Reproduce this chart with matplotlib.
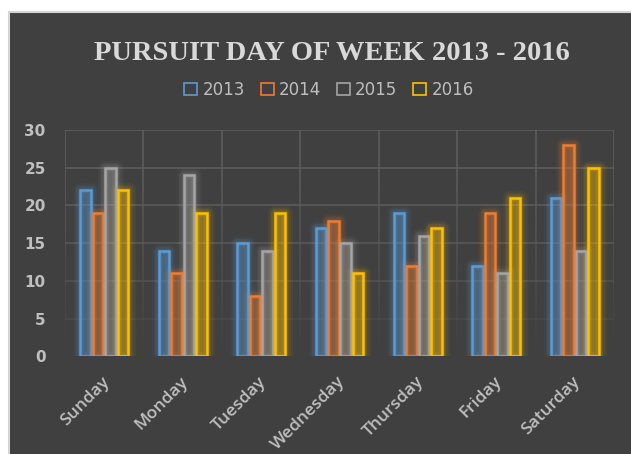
import matplotlib
matplotlib.use('Agg')
import matplotlib.pyplot as plt
import numpy as np
from matplotlib.patches import Rectangle, Patch
from matplotlib.collections import LineCollection
import matplotlib.transforms as mtransforms

days = ['Sunday', 'Monday', 'Tuesday', 'Wednesday', 'Thursday', 'Friday', 'Saturday']
years = ['2013', '2014', '2015', '2016']
v2013 = [22, 14, 15, 17, 19, 12, 21]
v2014 = [19, 11, 8, 18, 12, 19, 28]
v2015 = [25, 24, 14, 15, 16, 11, 14]
v2016 = [22, 19, 19, 11, 17, 21, 25]
series = [v2013, v2014, v2015, v2016]
colors = ['#5B9BD5', '#ED7D31', '#A5A5A5', '#FFC000']
yticks = [0, 5, 10, 15, 20, 25, 30]
title = 'PURSUIT DAY OF WEEK 2013 - 2016'

BG = '#404040'
GRID = '#5C5C5C'
TXT = '#BFBFBF'

fig = plt.figure(figsize=(6.31, 4.54), dpi=100)
fig.patch.set_facecolor('white')
fig.patches.append(Rectangle((9 / 631, -0.02), 1.1, 1 - 12 / 454 + 0.02,
                             transform=fig.transFigure, facecolor=BG,
                             edgecolor='#D4D4D4', linewidth=1.5, zorder=-5))

ax = fig.add_axes([65 / 631, 1 - 356.3 / 454, 549 / 631, 226.3 / 454])
ax.set_facecolor('none')
ax.set_xlim(-0.5, 6.5)
ax.set_ylim(0, 30)
for s in ax.spines.values():
    s.set_visible(False)

# fading gridlines
h_alpha = {0: 0.0, 5: 0.3, 10: 0.6, 15: 0.85, 20: 0.95, 25: 1.0, 30: 1.0}
for yv in yticks:
    if h_alpha[yv] > 0:
        ax.axhline(yv, color=GRID, lw=1.2, alpha=h_alpha[yv], zorder=1)
ys = np.linspace(0, 30, 61)
for xv in np.arange(-0.5, 7.0, 1.0):
    segs = [[(xv, ys[k]), (xv, ys[k + 1])] for k in range(len(ys) - 1)]
    alphas = np.clip((ys[:-1] + 0.25) / 25.0, 0, 1)
    cols = [matplotlib.colors.to_rgba(GRID, a) for a in alphas]
    ax.add_collection(LineCollection(segs, colors=cols, linewidths=1.2, zorder=1))

x = np.arange(len(days))
pitch = 0.159
width = 0.134
for i, (vals, c) in enumerate(zip(series, colors)):
    pos = x + (i - 1.5) * pitch
    for lw, a in [(11, 0.05), (8, 0.07), (5.5, 0.10), (3.5, 0.12)]:
        ax.bar(pos, vals, width, facecolor='none', edgecolor=c, linewidth=lw,
               alpha=a, zorder=2, joinstyle='round')
    ax.bar(pos, vals, width, color=c, alpha=0.32, linewidth=0, zorder=3)
    ax.bar(pos, vals, width, facecolor='none', edgecolor=c, linewidth=1.8, zorder=4)

ax.set_yticks(yticks)
ax.set_yticklabels([str(v) for v in yticks], fontsize=11, fontweight='bold', color=TXT)
ax.tick_params(axis='y', length=0, pad=13.9)
ax.set_xticks(x)
ax.set_xticklabels(days, rotation=45, ha='right', va='center', rotation_mode='anchor',
                   fontsize=12.5, color=TXT, family='Open Sans', fontweight='semibold')
ax.tick_params(axis='x', length=0, pad=16.5)
offset = mtransforms.ScaledTranslation(3 / 100, 0, fig.dpi_scale_trans)
for lab in ax.get_xticklabels():
    lab.set_transform(lab.get_transform() + offset)

handles = [Patch(facecolor='none', edgecolor=c, linewidth=1.2) for c in colors]
fig.legend(handles, years, loc='center', bbox_to_anchor=(329 / 631, 1 - 90 / 454),
           ncol=4, frameon=False, fontsize=12, handlelength=0.78, handleheight=0.72,
           handletextpad=0.3, columnspacing=0.96, labelcolor=TXT, borderpad=0)

fig.text(332 / 631, 1 - 53 / 454, title, ha='center', va='center', fontsize=20.5,
         fontweight='bold', family='Liberation Serif', color='#D9D9D9')

fig.savefig('out.png', dpi=100, facecolor=fig.get_facecolor())
